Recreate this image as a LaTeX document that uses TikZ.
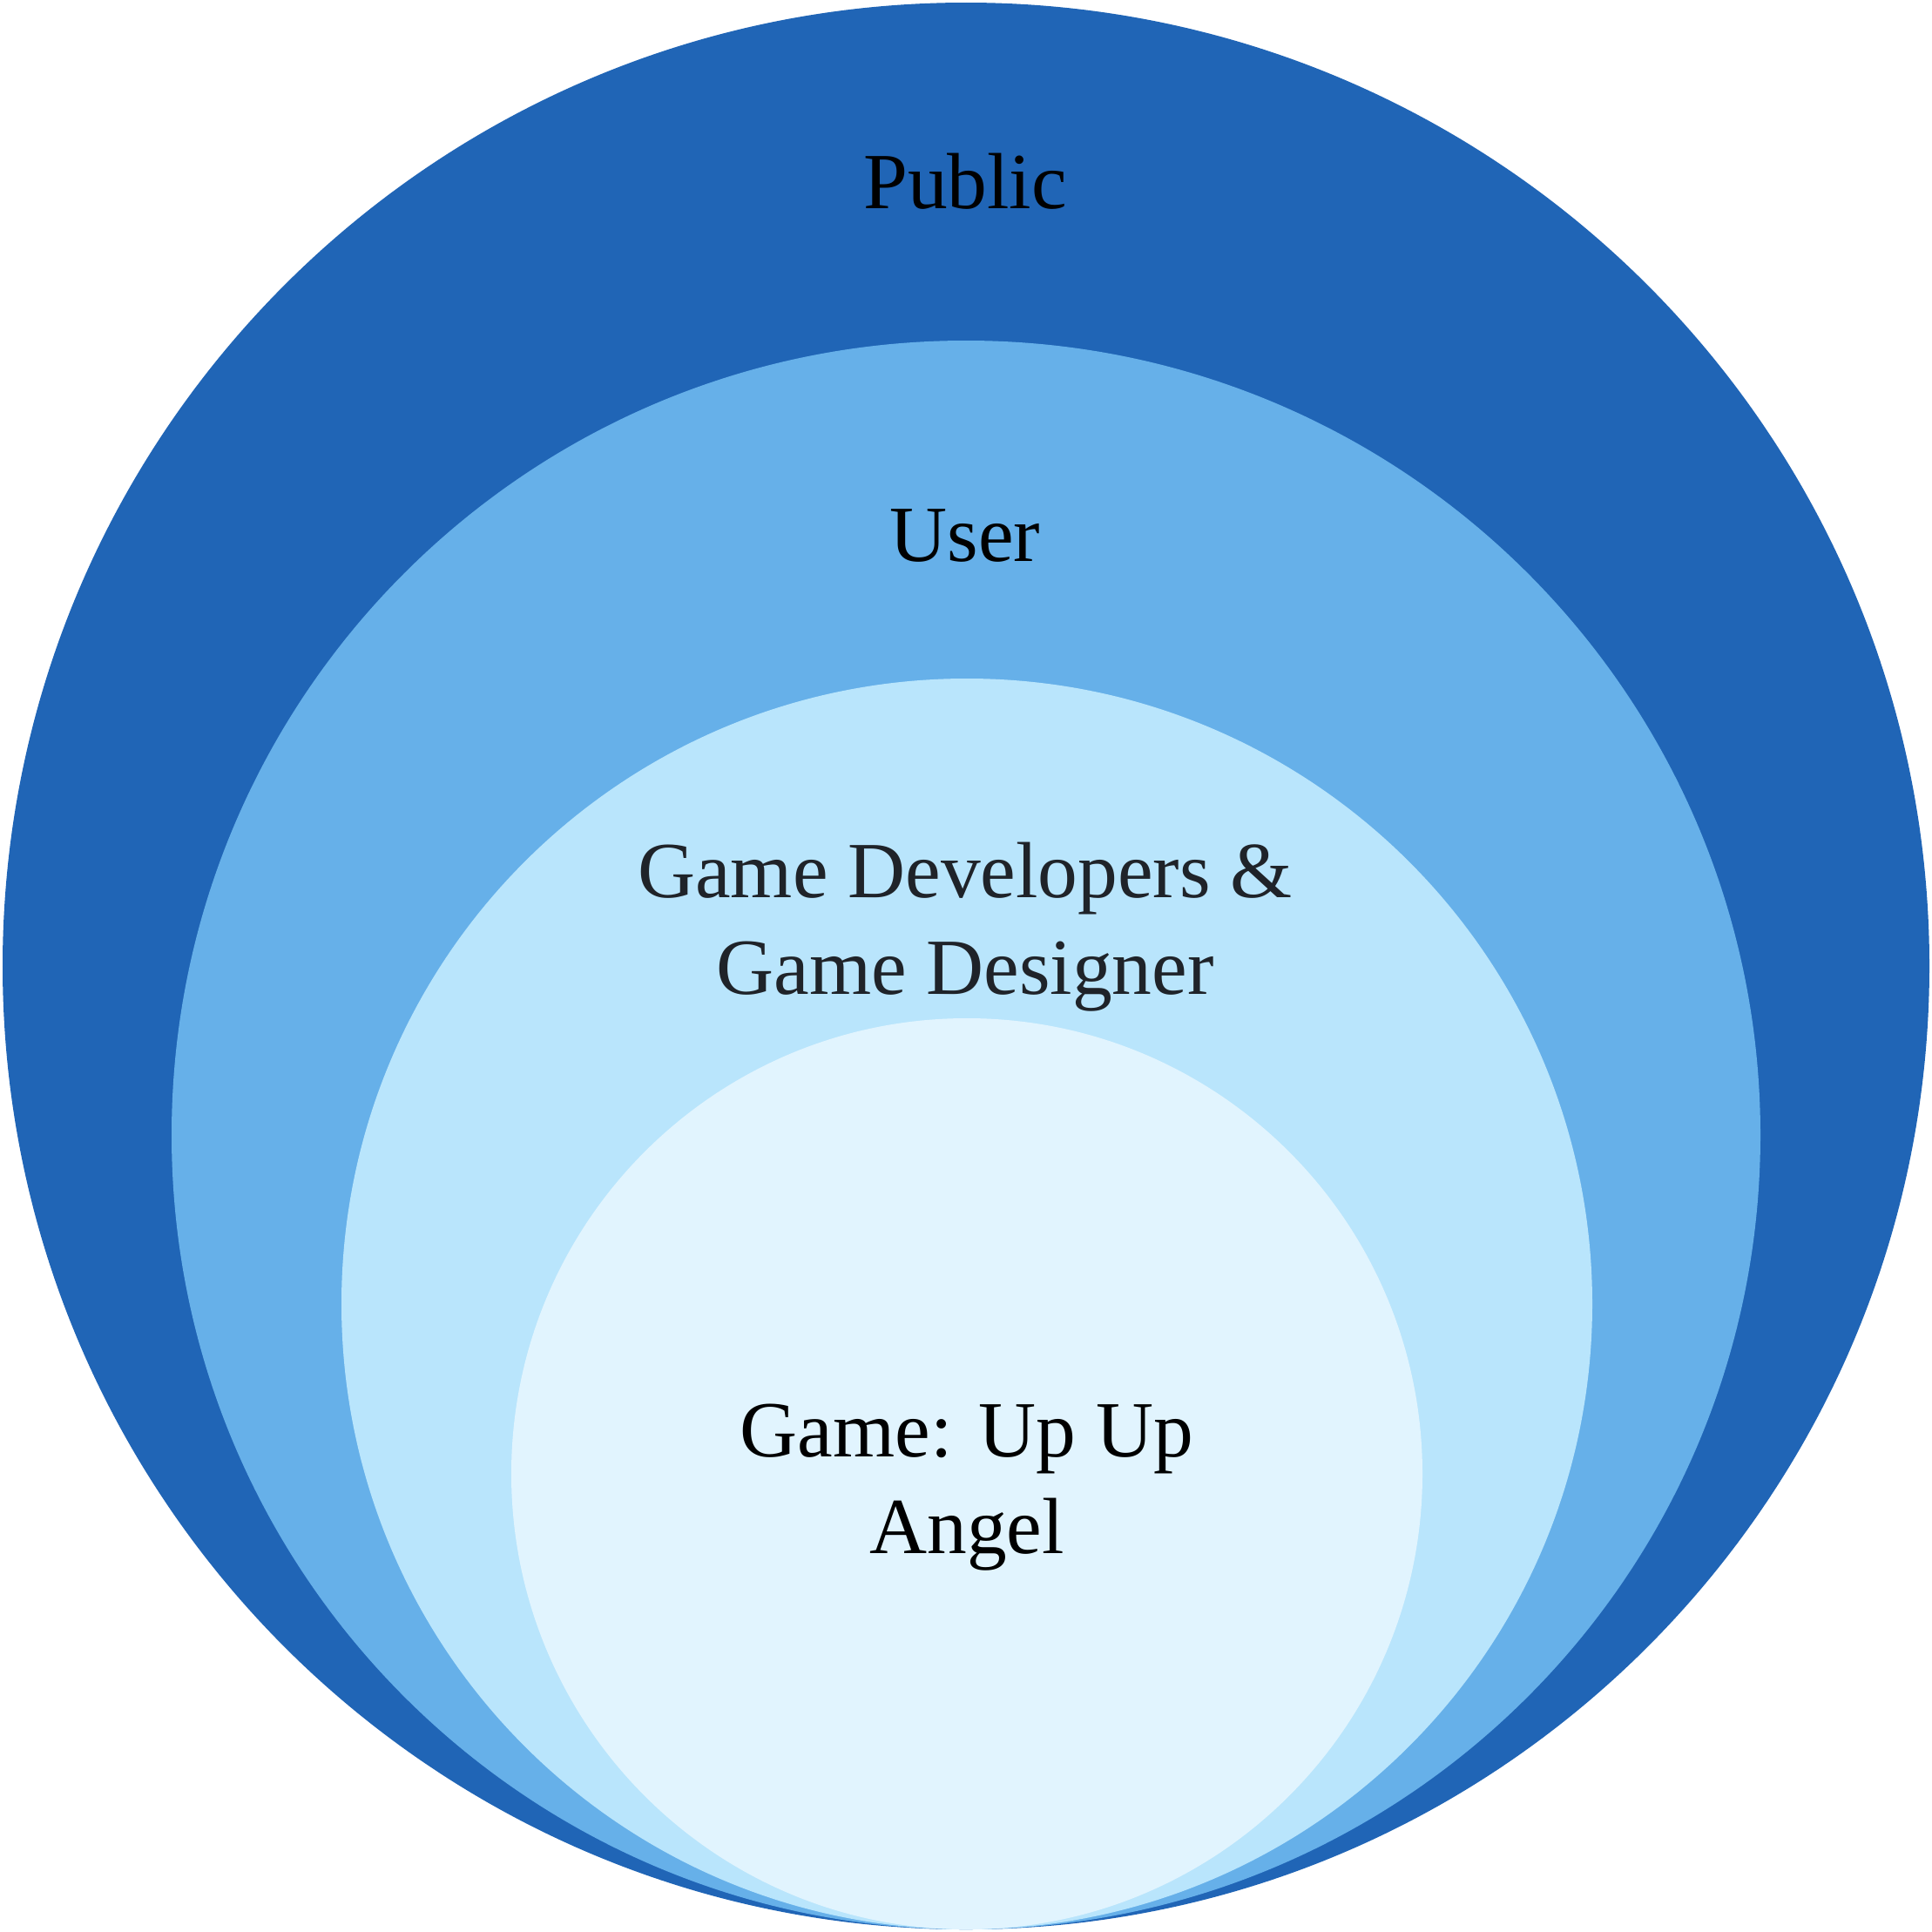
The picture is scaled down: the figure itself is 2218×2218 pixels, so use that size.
\documentclass[tikz,border=0pt]{standalone}
\usepackage{fontspec}
\setmainfont{Liberation Serif}
\definecolor{cpublic}{HTML}{2065B6}
\definecolor{cuser}{HTML}{66B0E9}
\definecolor{cdev}{HTML}{B9E5FC}
\definecolor{cgame}{HTML}{E1F4FE}
\definecolor{darktext}{HTML}{1F2329}
\begin{document}
\begin{tikzpicture}[x=0.01cm,y=-0.01cm,
  lbl/.style={font=\fontsize{26}{31.3}\selectfont, align=center, anchor=base, inner sep=0pt}]
\useasboundingbox (0,0) rectangle (2218,2218);
\fill[cpublic] (1109,1109) circle[radius=1106];
\fill[cuser] (1109,1303) circle[radius=912];
\fill[cdev] (1110,1497) circle[radius=718];
\fill[cgame] (1110,1692) circle[radius=523];
\node[lbl] (public) at (1108,239) {Public};
\node[lbl] (user) at (1108,644) {User};
\node[lbl, text=darktext] (dev) at (1108,1141) {Game Developers \&\\Game Designer};
\node[lbl] (game) at (1110,1783) {Game: Up Up\\Angel};
\end{tikzpicture}
\end{document}
